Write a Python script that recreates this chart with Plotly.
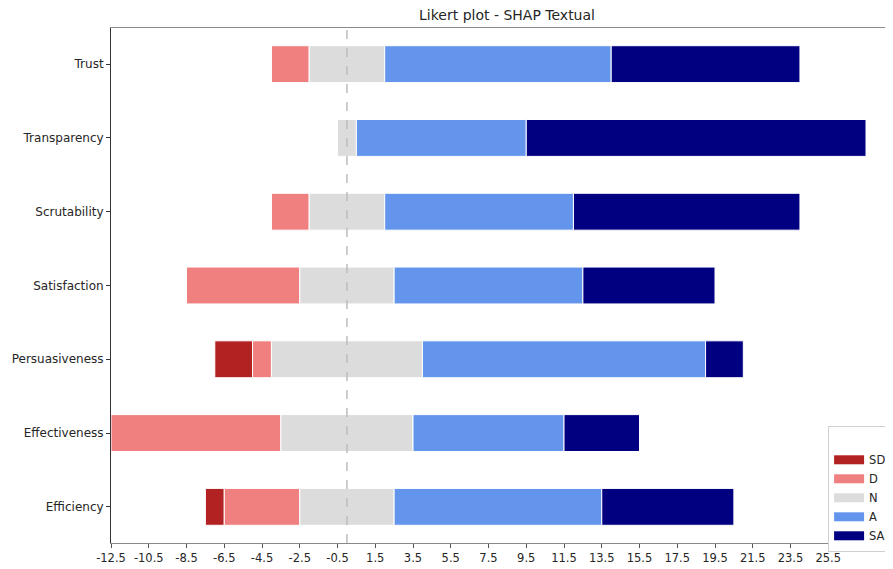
import plotly.graph_objects as go

categories = ["Trust", "Transparency", "Scrutability", "Satisfaction",
              "Persuasiveness", "Effectiveness", "Efficiency"]
SD = [0, 0, 0, 0, 2, 0, 1]
D = [2, 0, 2, 6, 1, 9, 4]
N = [4, 1, 4, 5, 8, 7, 5]
A = [12, 9, 10, 10, 15, 8, 11]
SA = [10, 18, 12, 7, 2, 4, 7]

levels = ["SD", "D", "N", "A", "SA"]
series = [SD, D, N, A, SA]
colors = ["#B22222", "#F08080", "#DCDCDC", "#6495ED", "#000080"]
tick_vals = [-12.5 + 2 * i for i in range(20)]
tick_text = [f"{v:.1f}" for v in tick_vals]

FONT = "DejaVu Sans, Liberation Sans, sans-serif"

# starting offsets so the neutral block is centred on 0
starts = [-(sd + d + n / 2) for sd, d, n in zip(SD, D, N)]

fig = go.Figure()
cum = list(starts)
for name, vals, col in zip(levels, series, colors):
    fig.add_trace(go.Bar(
        y=categories, x=vals, base=cum, orientation="h", name=name,
        marker=dict(color=col, line=dict(color="white", width=1)),
        width=0.5, showlegend=False,
    ))
    cum = [c + v for c, v in zip(cum, vals)]

# legend entries with wide rectangular swatches (matplotlib style)
for name, col in zip(levels, colors):
    fig.add_trace(go.Scatter(
        x=[None], y=[None], mode="lines", name=name,
        line=dict(color=col, width=9), hoverinfo="skip",
    ))

fig.add_shape(type="line", xref="x", yref="paper", x0=0, x1=0, y0=0, y1=1,
              line=dict(color="#bdbdbd", width=1.5, dash="dash"), layer="above")

W, H = 885, 561  # page body has an 8px margin
fig.update_layout(
    width=W, height=H,
    margin=dict(l=103, r=0, t=20, b=26, autoexpand=False),
    plot_bgcolor="white", paper_bgcolor="white",
    barmode="overlay",
    font=dict(family=FONT, size=11.5, color="#262626"),
    title=dict(text="Likert plot - SHAP Textual", x=499 / W, xanchor="center",
               xref="container", yref="container",
               y=1 - 7 / H, yanchor="middle",
               font=dict(family=FONT, size=14, color="#262626")),
    xaxis=dict(range=[-12.5, 28.93], tickvals=tick_vals, ticktext=tick_text,
               showgrid=False, zeroline=False, showline=True, mirror=True,
               linecolor="#8a8a8a", linewidth=1, ticks="outside", ticklen=4,
               tickcolor="#555", tickfont=dict(size=11.5)),
    yaxis=dict(range=[6.49, -0.49], showgrid=False, zeroline=False,
               showline=True, linecolor="#333", linewidth=1,
               ticks="outside", ticklen=4, tickcolor="#333",
               tickfont=dict(size=12)),
    legend=dict(x=0.917, y=0.227, xanchor="left", yanchor="top",
                bgcolor="white", bordercolor="#d0d0d0", borderwidth=1,
                font=dict(size=11.5), title=dict(text=" "),
                tracegroupgap=0, itemwidth=30),
    showlegend=True,
)

fig.write_html("out.html")
